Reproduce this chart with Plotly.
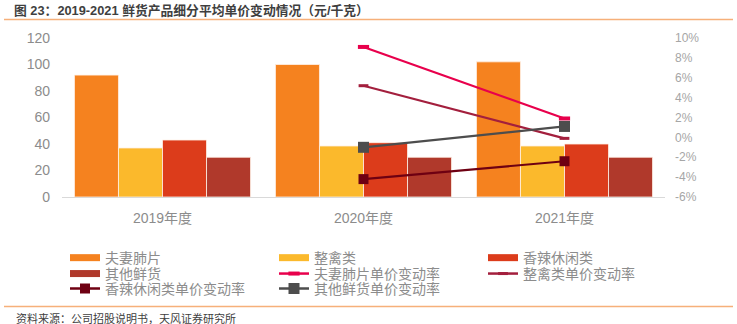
import plotly.graph_objects as go

# ---------------- data ----------------
categories = ["2019年度", "2020年度", "2021年度"]
bar_names = ["夫妻肺片", "整禽类", "香辣休闲类", "其他鲜货"]
price_fuqi = [92, 100, 102]
price_zhengqin = [37, 38.5, 38.5]
price_xiangla = [43, 41, 40]
price_qita = [30, 30, 30]

rate_categories = ["2020年度", "2021年度"]
rate_names = ["夫妻肺片单价变动率", "整禽类单价变动率", "香辣休闲类单价变动率", "其他鲜货单价变动率"]
rate_fuqi = [9.1, 1.9]
rate_zhengqin = [5.2, -0.1]
rate_xiangla = [-4.2, -2.4]
rate_qita = [-1.0, 1.1]

left_ticks = [0, 20, 40, 60, 80, 100, 120]
right_tickvals = [10, 8, 6, 4, 2, 0, -2, -4, -6]
right_ticktext = ["10%", "8%", "6%", "4%", "2%", "0%", "-2%", "-4%", "-6%"]

title_text = "图 23：2019-2021 鲜货产品细分平均单价变动情况（元/千克）"
source_text = "资料来源：公司招股说明书，天风证券研究所"

# ---------------- styles ----------------
bar_colors = ["#F5821F", "#FBB92C", "#DC3C1B", "#B0392B"]
line_colors = ["#E8004C", "#A31F3D", "#6E0012", "#4D4D4D"]
FONT = "Liberation Sans, Noto Sans CJK SC, sans-serif"

fig = go.Figure()

bar_values = [price_fuqi, price_zhengqin, price_xiangla, price_qita]
for name, vals, col in zip(bar_names, bar_values, bar_colors):
    fig.add_trace(go.Bar(
        x=categories, y=vals, name=name, marker_color=col,
        marker_line=dict(color="rgba(255,240,230,0.8)", width=1),
        showlegend=False, yaxis="y"))

rate_values = [rate_fuqi, rate_zhengqin, rate_xiangla, rate_qita]
marker_specs = [
    dict(symbol="line-ew-open", size=8, line=dict(width=4, color=line_colors[0])),
    dict(symbol="line-ew-open", size=7, line=dict(width=3, color=line_colors[1])),
    dict(symbol="square", size=10, color=line_colors[2]),
    dict(symbol="square", size=11, color=line_colors[3]),
]
for name, vals, col, mk in zip(rate_names, rate_values, line_colors, marker_specs):
    fig.add_trace(go.Scatter(
        x=rate_categories, y=vals, name=name, mode="lines+markers",
        line=dict(color=col, width=2.2), marker=mk, yaxis="y2",
        showlegend=False))

# legend layout in reference order
legend_items = [
    ("bar", 0), ("bar", 1), ("bar", 2),
    ("bar", 3), ("line", 0), ("line", 1),
    ("line", 2), ("line", 3),
]
col_x = [(65 - 62) / 603, (274 - 62) / 603, (483 - 62) / 603]
row_y = [-0.384, -0.484, -0.578]
legend_layouts = {}
for i, (kind, idx) in enumerate(legend_items):
    lname = "legend" if i == 0 else f"legend{i+1}"
    r, c = divmod(i, 3)
    if kind == "bar":
        fig.add_trace(go.Scatter(
            x=[None], y=[None], mode="lines", name=bar_names[idx],
            line=dict(color=bar_colors[idx], width=7),
            legend=lname, showlegend=True, hoverinfo="skip"))
    else:
        mk = dict(marker_specs[idx])
        fig.add_trace(go.Scatter(
            x=[None], y=[None], mode="lines+markers", name=rate_names[idx],
            line=dict(color=line_colors[idx], width=2.5), marker=mk,
            legend=lname, showlegend=True, hoverinfo="skip"))
    legend_layouts[lname] = dict(
        x=col_x[c], y=row_y[r], xanchor="left", yanchor="middle",
        orientation="v", bgcolor="rgba(0,0,0,0)", borderwidth=0,
        font=dict(family=FONT, size=14, color="#8C8C8C"),
        itemclick=False, itemdoubleclick=False)

fig.update_layout(
    width=737, height=324,
    margin=dict(l=62, r=72, t=38, b=127),
    paper_bgcolor="white", plot_bgcolor="white",
    barmode="group", bargap=0.124, bargroupgap=0,
    font=dict(family=FONT, color="#8C8C8C"),
    title=dict(text="<b>" + title_text + "</b>", x=14 / 737, y=1 - 11 / 324,
               xref="container", yref="container", xanchor="left", yanchor="middle",
               font=dict(family=FONT, size=12.8, color="#3F3F3F")),
    xaxis=dict(type="category", categoryorder="array", categoryarray=categories,
               showline=True, linecolor="#D9D9D9", linewidth=1, ticks="",
               showgrid=False, tickfont=dict(family=FONT, size=14, color="#8C8C8C"),
               ticklabelstandoff=8),
    yaxis=dict(range=[0, 120], tickvals=left_ticks, showgrid=False, zeroline=False,
               showline=False, ticks="", tickfont=dict(family=FONT, size=14, color="#8C8C8C"),
               ticklabelstandoff=11),
    yaxis2=dict(range=[-6, 10], overlaying="y", side="right", tickvals=right_tickvals,
                ticktext=right_ticktext, showgrid=False, zeroline=False, showline=False,
                ticks="", tickfont=dict(family=FONT, size=12, color="#A6A6A6"),
                ticklabelstandoff=9),
    shapes=[
        dict(type="line", xref="paper", yref="paper", x0=(4 - 62) / 603, x1=(733 - 62) / 603,
             y0=(197 - 19.5) / 159, y1=(197 - 19.5) / 159, line=dict(color="#F6B07A", width=1.5)),
        dict(type="line", xref="paper", yref="paper", x0=(4 - 62) / 603, x1=(733 - 62) / 603,
             y0=(197 - 306.5) / 159, y1=(197 - 306.5) / 159, line=dict(color="#F6B07A", width=1.5)),
    ],
    annotations=[
        dict(text=source_text, xref="paper", yref="paper", x=(14 - 62) / 603,
             y=(197 - 318) / 159, xanchor="left", yanchor="middle", showarrow=False,
             font=dict(family=FONT, size=11, color="#404040")),
    ],
    hovermode=False,
    **legend_layouts,
)

fig.write_html("out.html")
